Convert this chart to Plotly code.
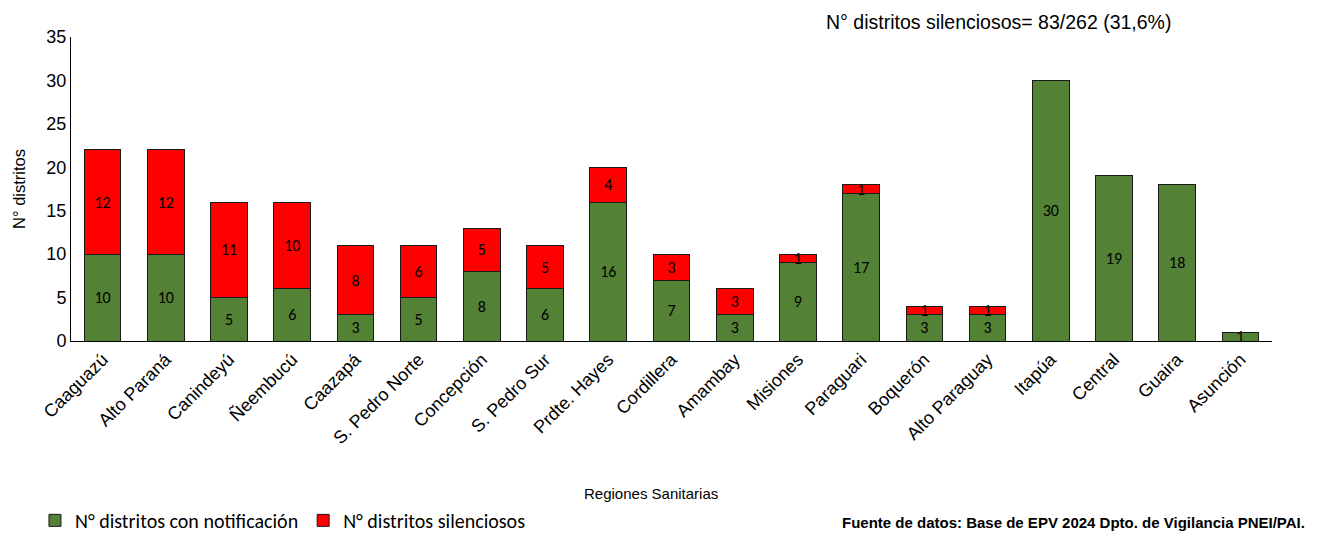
import plotly.graph_objects as go

regiones = ['Caaguazú', 'Alto Paraná', 'Canindeyú', 'Ñeembucú', 'Caazapá', 'S. Pedro Norte',
            'Concepción', 'S. Pedro Sur', 'Prdte. Hayes', 'Cordillera', 'Amambay', 'Misiones',
            'Paraguari', 'Boquerón', 'Alto Paraguay', 'Itapúa', 'Central', 'Guaira', 'Asunción']
con_notificacion = [10, 10, 5, 6, 3, 5, 8, 6, 16, 7, 3, 9, 17, 3, 3, 30, 19, 18, 1]
silenciosos = [12, 12, 11, 10, 8, 6, 5, 5, 4, 3, 3, 1, 1, 1, 1, 0, 0, 0, 0]

narrow = 'Liberation Sans Narrow, Arial Narrow, Liberation Sans'
label_font = 'Carlito, Calibri, Noto Sans'

fig = go.Figure()
fig.add_trace(go.Bar(
    x=regiones, y=con_notificacion, name='N° distritos con notificación',
    marker=dict(color='#538135', line=dict(color='#1a1a1a', width=1)),
    text=[str(v) if v else '' for v in con_notificacion],
    textposition='inside', insidetextanchor='middle', constraintext='none', textangle=0,
    textfont=dict(family=label_font, size=16, color='black'),
))
fig.add_trace(go.Bar(
    x=regiones, y=silenciosos, name='N° distritos silenciosos',
    marker=dict(color='#ff0000', line=dict(color='#1a1a1a', width=1)),
    text=[str(v) if v else '' for v in silenciosos],
    textposition='inside', insidetextanchor='middle', constraintext='none', textangle=0,
    textfont=dict(family=label_font, size=16, color='black'),
))

# the page body adds an 8px offset, so margins are shifted to compensate
fig.update_layout(
    barmode='stack', bargap=0.42,
    width=1324, height=538,
    margin=dict(l=63, r=60, t=29, b=205, autoexpand=False),
    plot_bgcolor='white', paper_bgcolor='white',
    uniformtext=dict(minsize=16, mode='show'),
    font=dict(family=narrow, size=16, color='black'),
    legend=dict(orientation='h', x=-0.03, xref='paper', y=-0.59, yanchor='middle',
                font=dict(family=label_font, size=20), traceorder='normal',
                itemwidth=30),
    showlegend=True,
)
fig.update_xaxes(
    showline=True, linecolor='black', linewidth=1, tickangle=-45, automargin=False,
    tickfont=dict(family=narrow, size=18), ticks='',
)
fig.update_yaxes(
    range=[0, 35], dtick=5, showgrid=False, showline=True, linecolor='black', linewidth=1,
    tickfont=dict(family=narrow, size=18), ticks='', automargin=False,
    title=dict(text='N° distritos', font=dict(family=narrow, size=16.5), standoff=16),
)

# x axis title sits a bit left of centre in the original
fig.add_annotation(
    text='Regiones Sanitarias', xref='paper', yref='paper',
    x=0.483, y=-0.503, xanchor='center', yanchor='middle', showarrow=False,
    font=dict(family=narrow, size=15),
)
fig.add_annotation(
    text='N° distritos silenciosos= 83/262 (31,6%)', xref='paper', yref='paper',
    x=0.772, y=1.049, xanchor='center', yanchor='middle', showarrow=False,
    font=dict(family=narrow, size=19.5),
)
fig.add_annotation(
    text='<b>Fuente de datos: Base de EPV 2024 Dpto. de Vigilancia PNEI/PAI.</b>',
    xref='paper', yref='paper', x=1.029, y=-0.598, xanchor='right', yanchor='middle',
    showarrow=False, font=dict(family=narrow, size=15),
)

fig.write_html('out.html')
